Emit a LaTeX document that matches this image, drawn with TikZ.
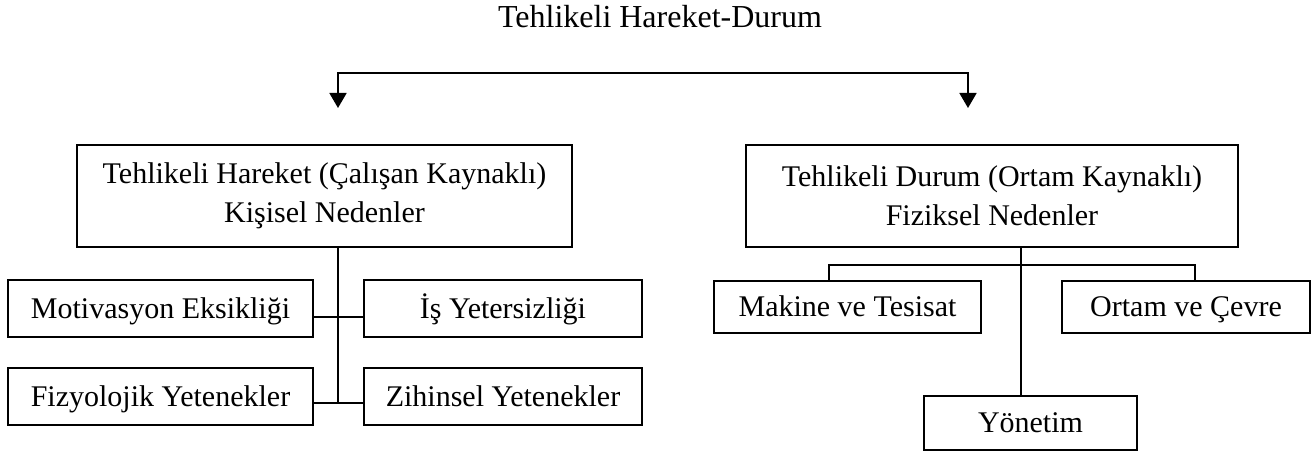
\documentclass[tikz,border=0pt]{standalone}
\usepackage{fontspec}
\setmainfont{Liberation Serif}
\usetikzlibrary{arrows.meta}
\begin{document}
\begin{tikzpicture}[x=0.5pt,y=-0.5pt,
  box/.style={draw=black,line width=1pt,inner sep=0pt,align=center,
    font=\fontsize{15}{19.5}\selectfont},
  leaf/.style={box,text height=10pt,text depth=0pt},
  conn/.style={draw=black,line width=0.9pt},
  arr/.style={conn,{Triangle[length=7.5pt,width=8.5pt]}-{Triangle[length=7.5pt,width=8.5pt]}}]
\useasboundingbox (0,0) rectangle (1314,454);
% title
\node[anchor=base,font=\fontsize{16}{19.5}\selectfont,inner sep=0pt] (title) at (660,28) {Tehlikeli Hareket-Durum};
% main boxes
\node[box,minimum width=247.5pt,minimum height=51pt] (lbox) at (324.5,196)
  {Tehlikeli Hareket (Çalışan Kaynaklı)\\Kişisel Nedenler};
\node[box,minimum width=246pt,minimum height=51pt] (rbox) at (992,196)
  {Tehlikeli Durum (Ortam Kaynaklı)\\Fiziksel Nedenler};
% left children
\node[leaf,minimum width=152.5pt,minimum height=28.5pt] (mot) at (160.5,309) {Motivasyon Eksikliği};
\node[leaf,minimum width=139pt,minimum height=28.5pt] (is) at (503,309) {İş Yetersizliği};
\node[leaf,minimum width=152.5pt,minimum height=28.5pt] (fiz) at (160.5,397) {Fizyolojik Yetenekler};
\node[leaf,minimum width=139pt,minimum height=28.5pt] (zih) at (503,397) {Zihinsel Yetenekler};
% right children
\node[leaf,minimum width=133.5pt,minimum height=26pt] (mak) at (847.5,307) {Makine ve Tesisat};
\node[leaf,minimum width=124pt,minimum height=26pt] (ort) at (1186,307) {Ortam ve Çevre};
\node[leaf,minimum width=106.5pt,minimum height=27pt] (yon) at (1030.5,423) {Yönetim};
% coordinates
\coordinate (la) at (338,108);
\coordinate (jr) at (968,73);
\coordinate (ra) at (968,108);
\coordinate (c1) at (338,317);
\coordinate (c2) at (338,403);
\coordinate (rv) at (1021,265);
\coordinate (b1) at (829,265);
\coordinate (b2) at (1195,265);
% top arrows
\draw[arr] (la) |- (jr) -- (ra);
% left tree
\draw[conn] (lbox.south -| c1) -- (c2);
\draw[conn] (mot.east |- c1) -- (is.west |- c1);
\draw[conn] (fiz.east |- c2) -- (zih.west |- c2);
% right tree
\draw[conn] (rbox.south -| rv) -- (yon.north -| rv);
\draw[conn] (mak.north -| b1) -- (b1) -- (b2) -- (ort.north -| b2);
\end{tikzpicture}
\end{document}
